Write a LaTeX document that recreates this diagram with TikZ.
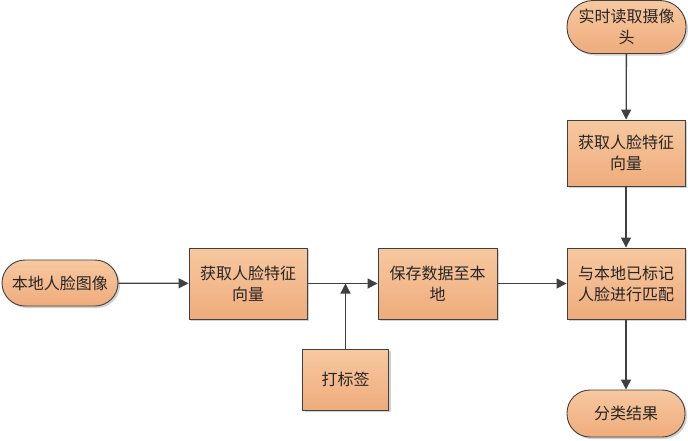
\documentclass[tikz,border=0pt]{standalone}
\usepackage{fontspec}
\newfontfamily\cjk{Noto Sans CJK SC}
\usetikzlibrary{arrows.meta,shadows}

\definecolor{boxtop}{RGB}{247,200,160}
\definecolor{boxbot}{RGB}{239,172,124}
\definecolor{edge}{RGB}{64,64,64}

\tikzset{
  flowbox/.style={draw=edge, line width=0.9pt, top color=boxtop, bottom color=boxbot,
    align=center, inner sep=0pt, text=black!85,
    font=\cjk\fontsize{16}{21}\selectfont,
    drop shadow={shadow xshift=2pt, shadow yshift=-2pt, fill=black!18, opacity=1}},
  termbox/.style={flowbox, rounded corners=23pt},
  flowline/.style={draw=edge, line width=1.3pt, -{Triangle[length=10pt,width=10pt]}}
}

\begin{document}
\begin{tikzpicture}[x=1pt,y=-1pt]

\useasboundingbox (0,0) rectangle (688,440);

% --- Riga centrale ---
\node[termbox, minimum width=116pt, minimum height=46pt] (local) at (60,283) {本地人脸图像};
\node[flowbox, minimum width=118pt, minimum height=71pt] (feat) at (248,283.5) {获取人脸特征\\向量};
\node[flowbox, minimum width=119pt, minimum height=71pt] (save) at (437.5,283.5) {保存数据至本\\地};
\node[flowbox, minimum width=118pt, minimum height=71pt] (match) at (626,283.5) {与本地已标记\\人脸进行匹配};

% --- Etichetta ---
\node[flowbox, minimum width=86pt, minimum height=61pt] (tag) at (345.5,379.5) {打标签};

% --- Colonna destra ---
\node[termbox, rounded corners=26pt, minimum width=119pt, minimum height=53pt] (cam) at (626.5,27) {实时读取摄像\\头};
\node[flowbox, minimum width=118pt, minimum height=66pt] (camfeat) at (626,153) {获取人脸特征\\向量};
\node[termbox, minimum width=118pt, minimum height=47pt] (result) at (626,413.5) {分类结果};

% --- Frecce ---
\draw[flowline] (local) -- (feat);
\draw[flowline] (feat) -- (save);
\coordinate (join) at (tag.north |- feat.east);
\draw[flowline] (tag) -- (join);
\draw[flowline] (save) -- (match);
\draw[flowline] (cam) -- (camfeat);
\draw[flowline] (camfeat) -- (match);
\draw[flowline] (match) -- (result);

\end{tikzpicture}
\end{document}
